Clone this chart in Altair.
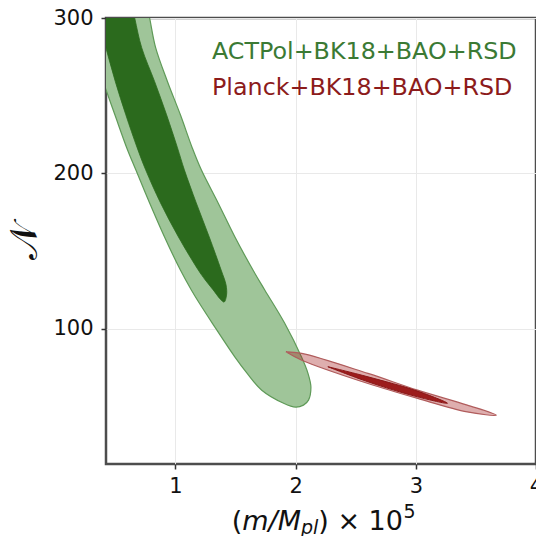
import altair as alt
import pandas as pd

# ---- contour boundaries ----
act_outer_x = [0.719, 0.785, 0.835, 0.934, 1.041, 1.140, 1.215, 1.355, 1.495, 1.645, 1.743,
               1.908, 2.049, 2.102, 2.127, 2.107, 2.065, 1.999, 1.900, 1.718, 1.595, 1.495,
               1.306, 1.198, 1.132, 1.041, 0.909, 0.785, 0.670, 0.595, 0.496, 0.422, 0.303,
               0.182, 0.092]
act_outer_y = [324.7, 300.0, 280.9, 259.0, 237.7, 216.4, 202.3, 181.0, 159.1, 137.8, 125.0,
               103.7, 81.8, 71.5, 62.5, 54.1, 50.9, 49.6, 52.1, 60.5, 71.5, 81.8,
               103.7, 116.6, 125.0, 137.8, 159.1, 181.0, 202.3, 216.4, 237.7, 253.8, 279.6,
               305.4, 324.7]

act_inner_x = [0.595, 0.661, 0.719, 0.827, 0.926, 1.017, 1.074, 1.173, 1.281, 1.380, 1.421,
               1.425, 1.405, 1.372, 1.314, 1.248, 1.190, 1.025, 0.876, 0.752, 0.682, 0.587,
               0.500, 0.414, 0.331, 0.273]
act_inner_y = [324.7, 300.0, 280.9, 259.0, 237.7, 216.4, 202.3, 181.0, 159.1, 137.8, 128.2,
               121.7, 117.2, 119.2, 125.0, 131.4, 137.8, 159.1, 181.0, 202.3, 216.4, 237.7,
               259.0, 282.8, 305.4, 324.7]

planck_outer_x = [1.919, 2.051, 2.602, 3.015, 3.428, 3.670, 3.428, 3.015, 2.602, 2.051]
planck_outer_y = [85.2, 84.2, 71.3, 60.5, 50.9, 44.4, 46.5, 55.2, 64.8, 79.8]

planck_inner_x = [2.268, 2.602, 3.015, 3.263, 3.015, 2.602]
planck_inner_y = [75.6, 69.1, 59.9, 52.1, 56.2, 65.9]

legend_labels = ["ACTPol+BK18+BAO+RSD", "Planck+BK18+BAO+RSD"]
x_ticks = [1, 2, 3, 4]
y_ticks = [100, 200, 300]
x_domain = [0.422, 4.0]
y_domain = [13, 300]


def frame(xs_, ys_):
    # repeat the first vertex at the end so the smooth path closes
    xs_ = list(xs_) + [xs_[0]]
    ys_ = list(ys_) + [ys_[0]]
    return pd.DataFrame({"x": xs_, "y": ys_, "i": list(range(len(xs_)))})


FONT = "DejaVu Sans"
xs = alt.Scale(domain=x_domain, nice=False, zero=False)
ys = alt.Scale(domain=y_domain, nice=False, zero=False)
xax = alt.Axis(values=x_ticks, title=None, labelFontSize=21, labelPadding=6, tickSize=5,
               tickWidth=1.5, tickColor="#333333", labelColor="#111111", grid=True,
               gridColor="#e9e9e9", domain=False, labelFont=FONT, labelFlush=False,
               labelOverlap=False, labelBound=False)
yax = alt.Axis(values=y_ticks, title=None, labelFontSize=21, labelPadding=8, tickSize=5,
               tickWidth=1.5, tickColor="#333333", labelColor="#111111", grid=True,
               gridColor="#e9e9e9", domain=False, labelFont=FONT, labelFlush=False,
               labelOverlap=False, labelBound=False)


def poly(xs_, ys_, fill, stroke, sw, fo=1.0):
    return alt.Chart(frame(xs_, ys_)).mark_line(
        interpolate="catmull-rom", fill=fill, fillOpacity=fo, stroke=stroke,
        strokeWidth=sw, clip=True
    ).encode(
        x=alt.X("x:Q", scale=xs, axis=xax),
        y=alt.Y("y:Q", scale=ys, axis=yax),
        order="i:Q",
    )


g_out = poly(act_outer_x, act_outer_y, "#9fc599", "#5f9a58", 1.2)
g_in = poly(act_inner_x, act_inner_y, "#2b6a1d", "#2b6a1d", 0.8)
r_out = poly(planck_outer_x, planck_outer_y, "#a31f1f", "#b05c5c", 1.2, fo=0.36)
r_in = poly(planck_inner_x, planck_inner_y, "#9c1c1c", "#8a1717", 1.0)

leg_df = pd.DataFrame({"label": legend_labels, "row": [0, 1]})
leg_green = alt.Chart(leg_df[leg_df.row == 0]).mark_text(
    align="left", baseline="alphabetic", font=FONT, fontSize=23.8, color="#3b7a34"
).encode(text="label:N", x=alt.value(106), y=alt.value(41))
leg_red = alt.Chart(leg_df[leg_df.row == 1]).mark_text(
    align="left", baseline="alphabetic", font=FONT, fontSize=23.8, color="#8c1b1b"
).encode(text="label:N", x=alt.value(106), y=alt.value(77))

# x-axis title pieces: (m/M_pl) x 10^5
title_df = pd.DataFrame({"t": ["(", "m/M", "pl", ")", "\u00d7 10", "5"]})
base_y = 512
pieces = []
specs = [
    ("(", 125.8, base_y, 27, "normal"),
    ("m/M", 136.3, base_y, 27, "italic"),
    ("pl", 195.0, base_y + 4, 19, "italic"),
    (")", 212.3, base_y, 27, "normal"),
    ("\u00d7 10", 231.4, base_y, 27, "normal"),
    ("5", 297.5, base_y - 12, 19, "normal"),
]
for t, px, py, fs, st in specs:
    pieces.append(
        alt.Chart(title_df[title_df.t == t]).mark_text(
            align="left", baseline="alphabetic", font=FONT, fontSize=fs, fontStyle=st,
            color="#111111"
        ).encode(text="t:N", x=alt.value(px), y=alt.value(py))
    )

ytitle = alt.Chart(pd.DataFrame({"t": ["\U0001D4A9"]})).mark_text(
    align="center", baseline="middle", fontSize=38, angle=270, color="#111111"
).encode(text="t:N", x=alt.value(-80), y=alt.value(224))

chart = alt.layer(g_out, g_in, r_out, r_in, leg_green, leg_red, ytitle, *pieces).properties(
    width=430, height=446,
    padding={"left": 98, "top": 10, "right": 0, "bottom": 72},
    autosize=alt.AutoSizeParams(type="none"),
).configure_view(stroke="#4d4d4d", strokeWidth=2.5)

chart.save("out.html", embed_options={"renderer": "svg", "actions": False})
